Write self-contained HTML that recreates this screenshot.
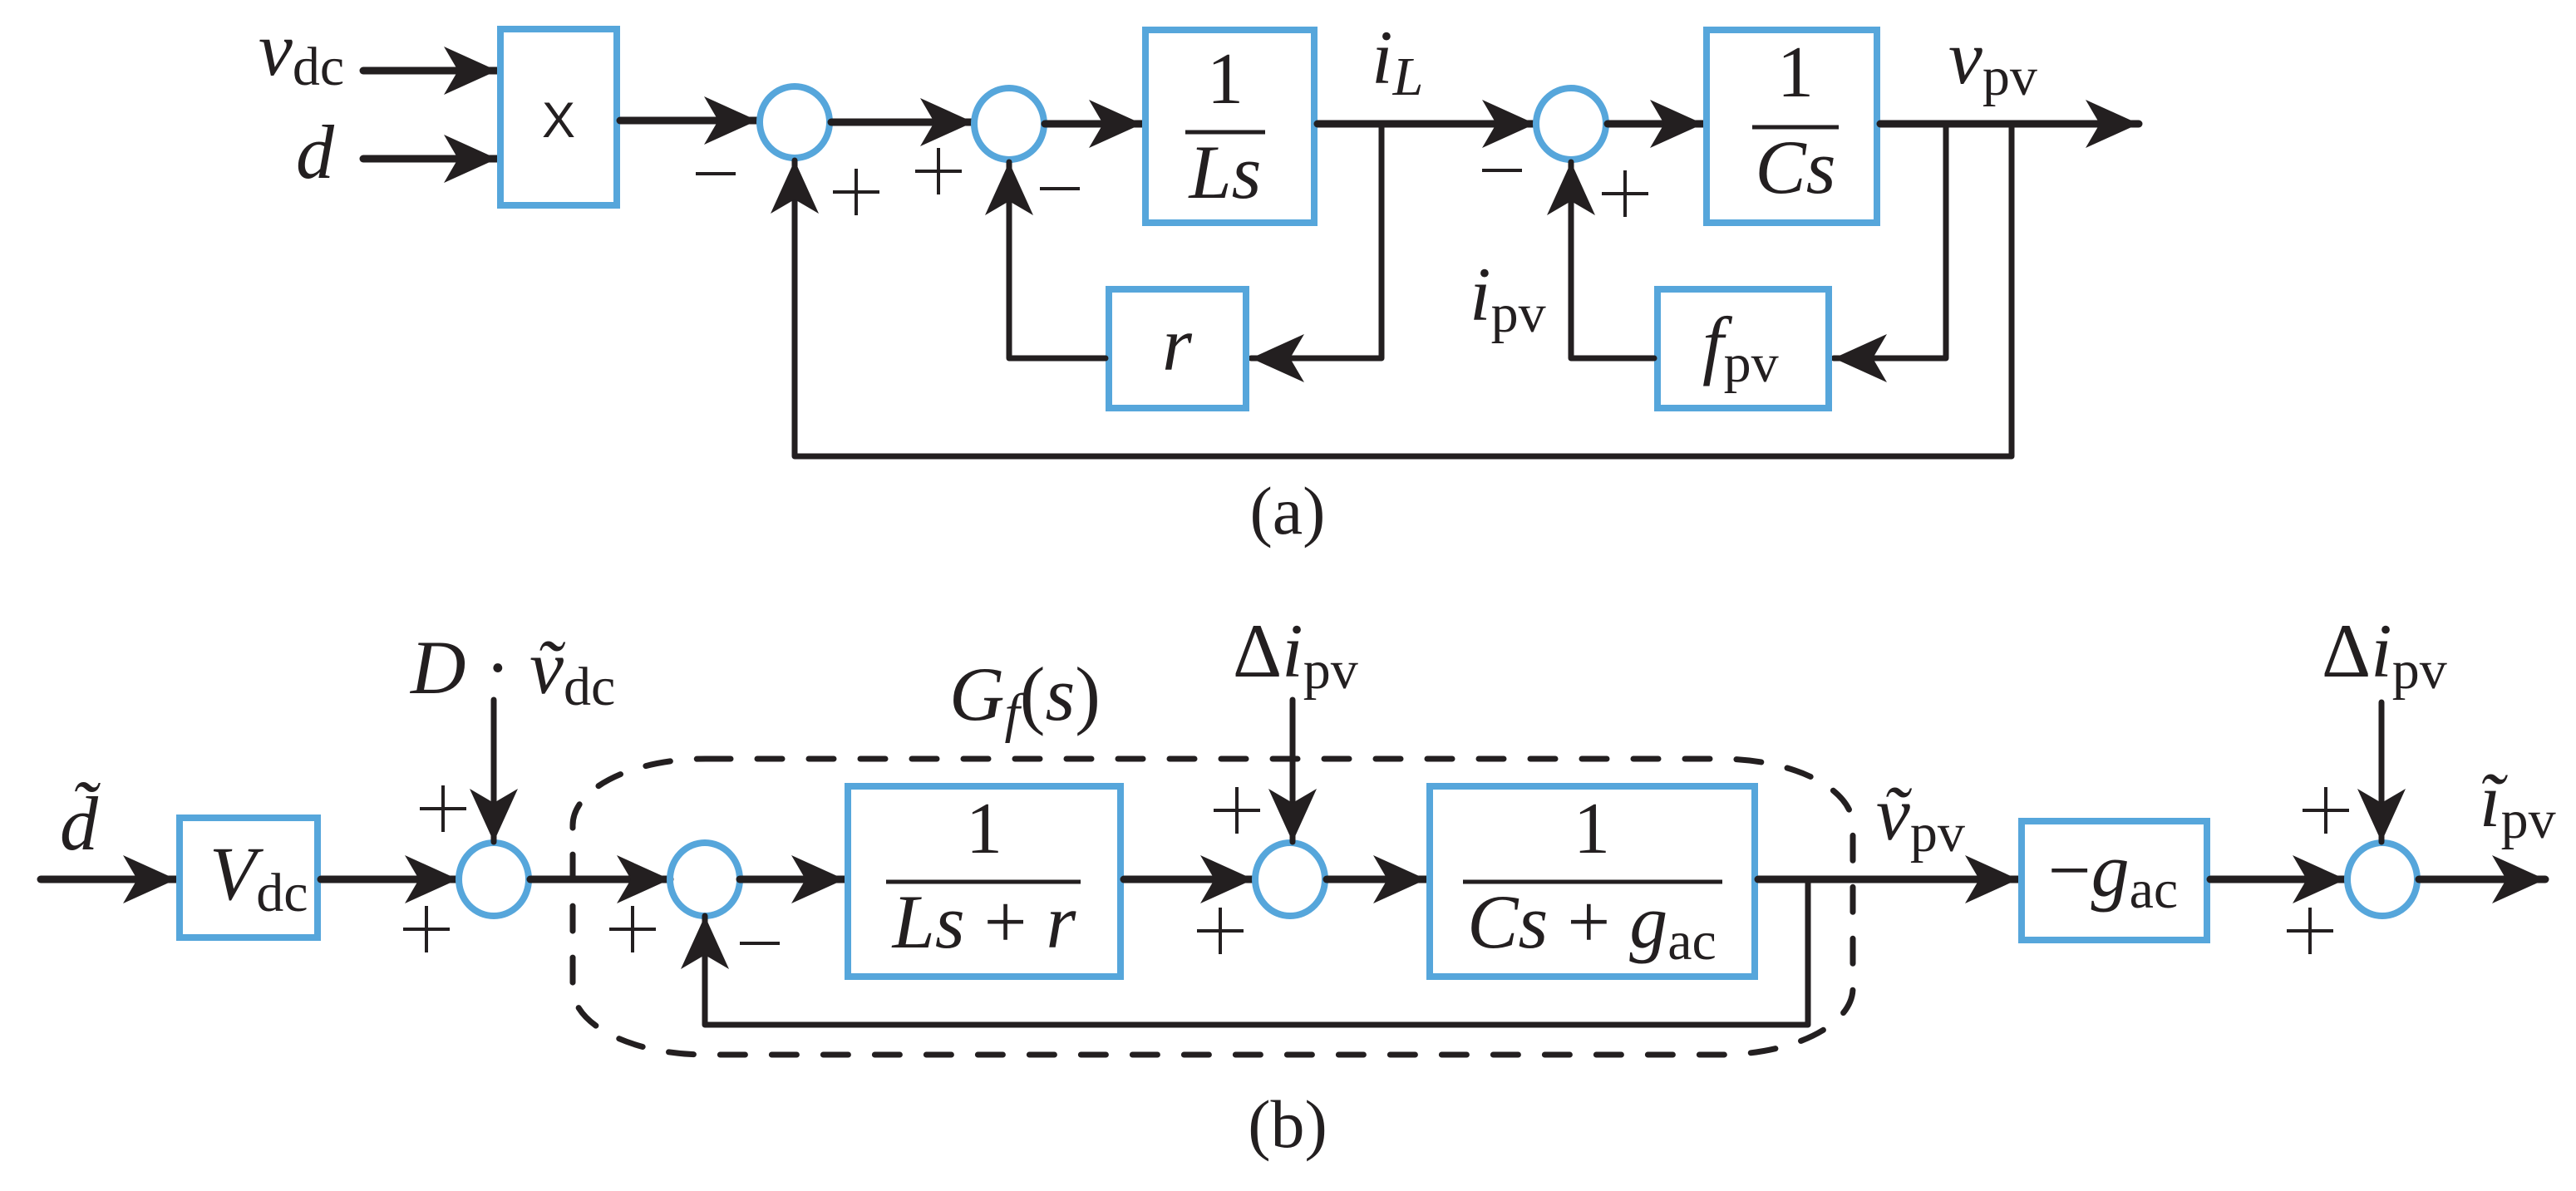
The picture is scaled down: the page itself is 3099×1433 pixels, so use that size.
<!DOCTYPE html>
<html><head><meta charset="utf-8"><style>
html,body{margin:0;padding:0;background:#fff;}
svg{display:block;}
text{font-family:"Liberation Serif",serif;fill:#231f20;}
.i{font-style:italic;}
.b{fill:none;stroke:#56a6db;stroke-width:8;}
.l{fill:none;stroke:#231f20;stroke-width:9;stroke-linecap:round;stroke-linejoin:round;}
.t{fill:none;stroke:#231f20;stroke-width:7;stroke-linecap:round;stroke-linejoin:round;}
.s{stroke:#231f20;stroke-width:4;fill:none;}
</style></head><body>
<svg width="3099" height="1433" viewBox="0 0 3099 1433" xmlns="http://www.w3.org/2000/svg">
<defs>
<marker id="a" markerUnits="userSpaceOnUse" markerWidth="80" markerHeight="80" viewBox="-70 -40 80 80" refX="0" refY="0" orient="auto">
<path d="M0,0 L-64,-29 L-47,0 L-64,29 Z" fill="#231f20"/>
</marker>
<g id="p"><line class="s" x1="-28" y1="0" x2="28" y2="0"/><line class="s" x1="0" y1="-28" x2="0" y2="28"/></g>
<g id="m"><line class="s" x1="-24" y1="0" x2="24" y2="0"/></g>
</defs>
<!-- ===== (a) ===== -->
<line class="l" x1="437" y1="85" x2="598" y2="85" marker-end="url(#a)"/>
<line class="l" x1="437" y1="191" x2="598" y2="191" marker-end="url(#a)"/>
<rect class="b" x="602" y="35" width="140" height="212"/>
<text x="672" y="165" style="font-family:'Liberation Sans',sans-serif" font-size="60" text-anchor="middle">X</text>
<line class="l" x1="746" y1="145" x2="911" y2="145" marker-end="url(#a)"/>
<ellipse class="b" cx="956" cy="147" rx="42" ry="43"/>
<line class="l" x1="1000" y1="147" x2="1171" y2="147" marker-end="url(#a)"/>
<ellipse class="b" cx="1214" cy="149" rx="42" ry="43"/>
<line class="l" x1="1257" y1="149" x2="1374" y2="149" marker-end="url(#a)"/>
<rect class="b" x="1378" y="36" width="203" height="232"/>
<text x="1474" y="124" font-size="88" text-anchor="middle">1</text>
<line x1="1426" y1="159" x2="1522" y2="159" stroke="#231f20" stroke-width="5"/>
<text class="i" x="1474" y="238" font-size="92" text-anchor="middle">Ls</text>
<line class="l" x1="1585" y1="149" x2="1847" y2="149" marker-end="url(#a)"/>
<polyline class="t" points="1662,149 1662,431 1505,431" marker-end="url(#a)"/>
<rect class="b" x="1334" y="348" width="165" height="143"/>
<text class="i" x="1416" y="445" font-size="92" text-anchor="middle">r</text>
<polyline class="t" points="1330,431 1214,431 1214,195" marker-end="url(#a)"/>
<ellipse class="b" cx="1890" cy="149" rx="42" ry="43"/>
<line class="l" x1="1934" y1="149" x2="2049" y2="149" marker-end="url(#a)"/>
<rect class="b" x="2053" y="36" width="205" height="232"/>
<text x="2160" y="116" font-size="88" text-anchor="middle">1</text>
<line x1="2108" y1="153" x2="2212" y2="153" stroke="#231f20" stroke-width="5"/>
<text class="i" x="2160" y="232" font-size="92" text-anchor="middle">Cs</text>
<line class="l" x1="2262" y1="149" x2="2573" y2="149" marker-end="url(#a)"/>
<polyline class="t" points="2341,149 2341,431 2206,431" marker-end="url(#a)"/>
<rect class="b" x="1994" y="348" width="206" height="143"/>
<text class="i" x="2048" y="445" font-size="92">f<tspan font-style="normal" font-size="66" dy="14">pv</tspan></text>
<polyline class="t" points="1990,431 1890,431 1890,195" marker-end="url(#a)"/>
<polyline class="t" points="2420,149 2420,549 956,549 956,193" marker-end="url(#a)"/>
<!-- labels a -->
<text class="i" x="311" y="90" font-size="92">v<tspan font-style="normal" font-size="66" dy="12">dc</tspan></text>
<text class="i" x="356" y="214" font-size="92">d</text>
<text class="i" x="1650" y="100" font-size="92">i<tspan font-size="66" dy="14">L</tspan></text>
<text class="i" x="2344" y="100" font-size="92">v<tspan font-style="normal" font-size="66" dy="14">pv</tspan></text>
<text class="i" x="1768" y="385" font-size="92">i<tspan font-style="normal" font-size="66" dy="14">pv</tspan></text>
<use href="#m" x="861" y="209"/>
<use href="#p" x="1030" y="231"/>
<use href="#p" x="1129" y="206"/>
<use href="#m" x="1275" y="227"/>
<use href="#m" x="1807" y="205"/>
<use href="#p" x="1955" y="233"/>
<text x="1549" y="642" font-size="82" text-anchor="middle">(a)</text>
<!-- ===== (b) ===== -->
<rect x="689" y="913" width="1540" height="356" rx="160" ry="80" fill="none" stroke="#231f20" stroke-width="7" stroke-dasharray="30,32" stroke-linecap="round"/>
<line class="l" x1="49" y1="1058" x2="212" y2="1058" marker-end="url(#a)"/>
<rect class="b" x="216" y="984" width="166" height="144"/>
<text class="i" x="252" y="1082" font-size="92">V<tspan font-style="normal" font-size="66" dy="14">dc</tspan></text>
<line class="l" x1="386" y1="1058" x2="551" y2="1058" marker-end="url(#a)"/>
<ellipse class="b" cx="594" cy="1058" rx="42" ry="44"/>
<line class="t" x1="594" y1="842" x2="594" y2="1013" marker-end="url(#a)"/>
<line class="l" x1="638" y1="1058" x2="806" y2="1058" marker-end="url(#a)"/>
<ellipse class="b" cx="848" cy="1058" rx="42" ry="44"/>
<line class="l" x1="890" y1="1058" x2="1016" y2="1058" marker-end="url(#a)"/>
<rect class="b" x="1020" y="946" width="328" height="229"/>
<text x="1184" y="1026" font-size="88" text-anchor="middle">1</text>
<line x1="1066" y1="1061" x2="1300" y2="1061" stroke="#231f20" stroke-width="5"/>
<text x="1184" y="1140" font-size="92" text-anchor="middle"><tspan font-style="italic">Ls</tspan> + <tspan font-style="italic">r</tspan></text>
<line class="l" x1="1352" y1="1058" x2="1508" y2="1058" marker-end="url(#a)"/>
<ellipse class="b" cx="1552" cy="1058" rx="42" ry="44"/>
<line class="t" x1="1555" y1="842" x2="1555" y2="1013" marker-end="url(#a)"/>
<line class="l" x1="1596" y1="1058" x2="1716" y2="1058" marker-end="url(#a)"/>
<rect class="b" x="1720" y="946" width="391" height="229"/>
<text x="1915" y="1026" font-size="88" text-anchor="middle">1</text>
<line x1="1760" y1="1061" x2="2072" y2="1061" stroke="#231f20" stroke-width="5"/>
<text x="1915" y="1140" font-size="92" text-anchor="middle"><tspan font-style="italic">Cs</tspan> + <tspan font-style="italic">g</tspan><tspan font-size="66" dy="14">ac</tspan></text>
<line class="l" x1="2115" y1="1058" x2="2428" y2="1058" marker-end="url(#a)"/>
<polyline class="t" points="2175,1058 2175,1233 848,1233 848,1102" marker-end="url(#a)"/>
<rect class="b" x="2432" y="988" width="223" height="143"/>
<text x="2542" y="1078" font-size="92" text-anchor="middle">−<tspan font-style="italic">g</tspan><tspan font-size="66" dy="14">ac</tspan></text>
<line class="l" x1="2659" y1="1058" x2="2822" y2="1058" marker-end="url(#a)"/>
<ellipse class="b" cx="2866" cy="1058" rx="42" ry="44"/>
<line class="t" x1="2865" y1="845" x2="2865" y2="1013" marker-end="url(#a)"/>
<line class="l" x1="2910" y1="1058" x2="3062" y2="1058" marker-end="url(#a)"/>
<!-- labels b -->
<text class="i" x="72" y="1022" font-size="92">d̃</text>
<text x="494" y="834" font-size="92"><tspan font-style="italic">D</tspan> · <tspan font-style="italic">ṽ</tspan><tspan font-size="66" dy="14">dc</tspan></text>
<text x="1142" y="866" font-size="92"><tspan font-style="italic">G</tspan><tspan font-style="italic" font-size="66" dy="14">f</tspan><tspan dy="-14">(</tspan><tspan font-style="italic">s</tspan>)</text>
<text x="1483" y="814" font-size="92">Δ<tspan font-style="italic">i</tspan><tspan font-size="66" dy="14">pv</tspan></text>
<text x="2793" y="814" font-size="92">Δ<tspan font-style="italic">i</tspan><tspan font-size="66" dy="14">pv</tspan></text>
<text x="2257" y="1010" font-size="92"><tspan font-style="italic">ṽ</tspan><tspan font-size="66" dy="14">pv</tspan></text>
<text x="2983" y="994" font-size="92"><tspan font-style="italic">ĩ</tspan><tspan font-size="66" dy="14">pv</tspan></text>
<use href="#p" x="533" y="973"/>
<use href="#p" x="513" y="1118"/>
<use href="#p" x="761" y="1118"/>
<use href="#m" x="914" y="1135"/>
<use href="#p" x="1488" y="975"/>
<use href="#p" x="1468" y="1120"/>
<use href="#p" x="2798" y="975"/>
<use href="#p" x="2779" y="1120"/>
<text x="1549" y="1380" font-size="82" text-anchor="middle">(b)</text>
</svg>
</body></html>
